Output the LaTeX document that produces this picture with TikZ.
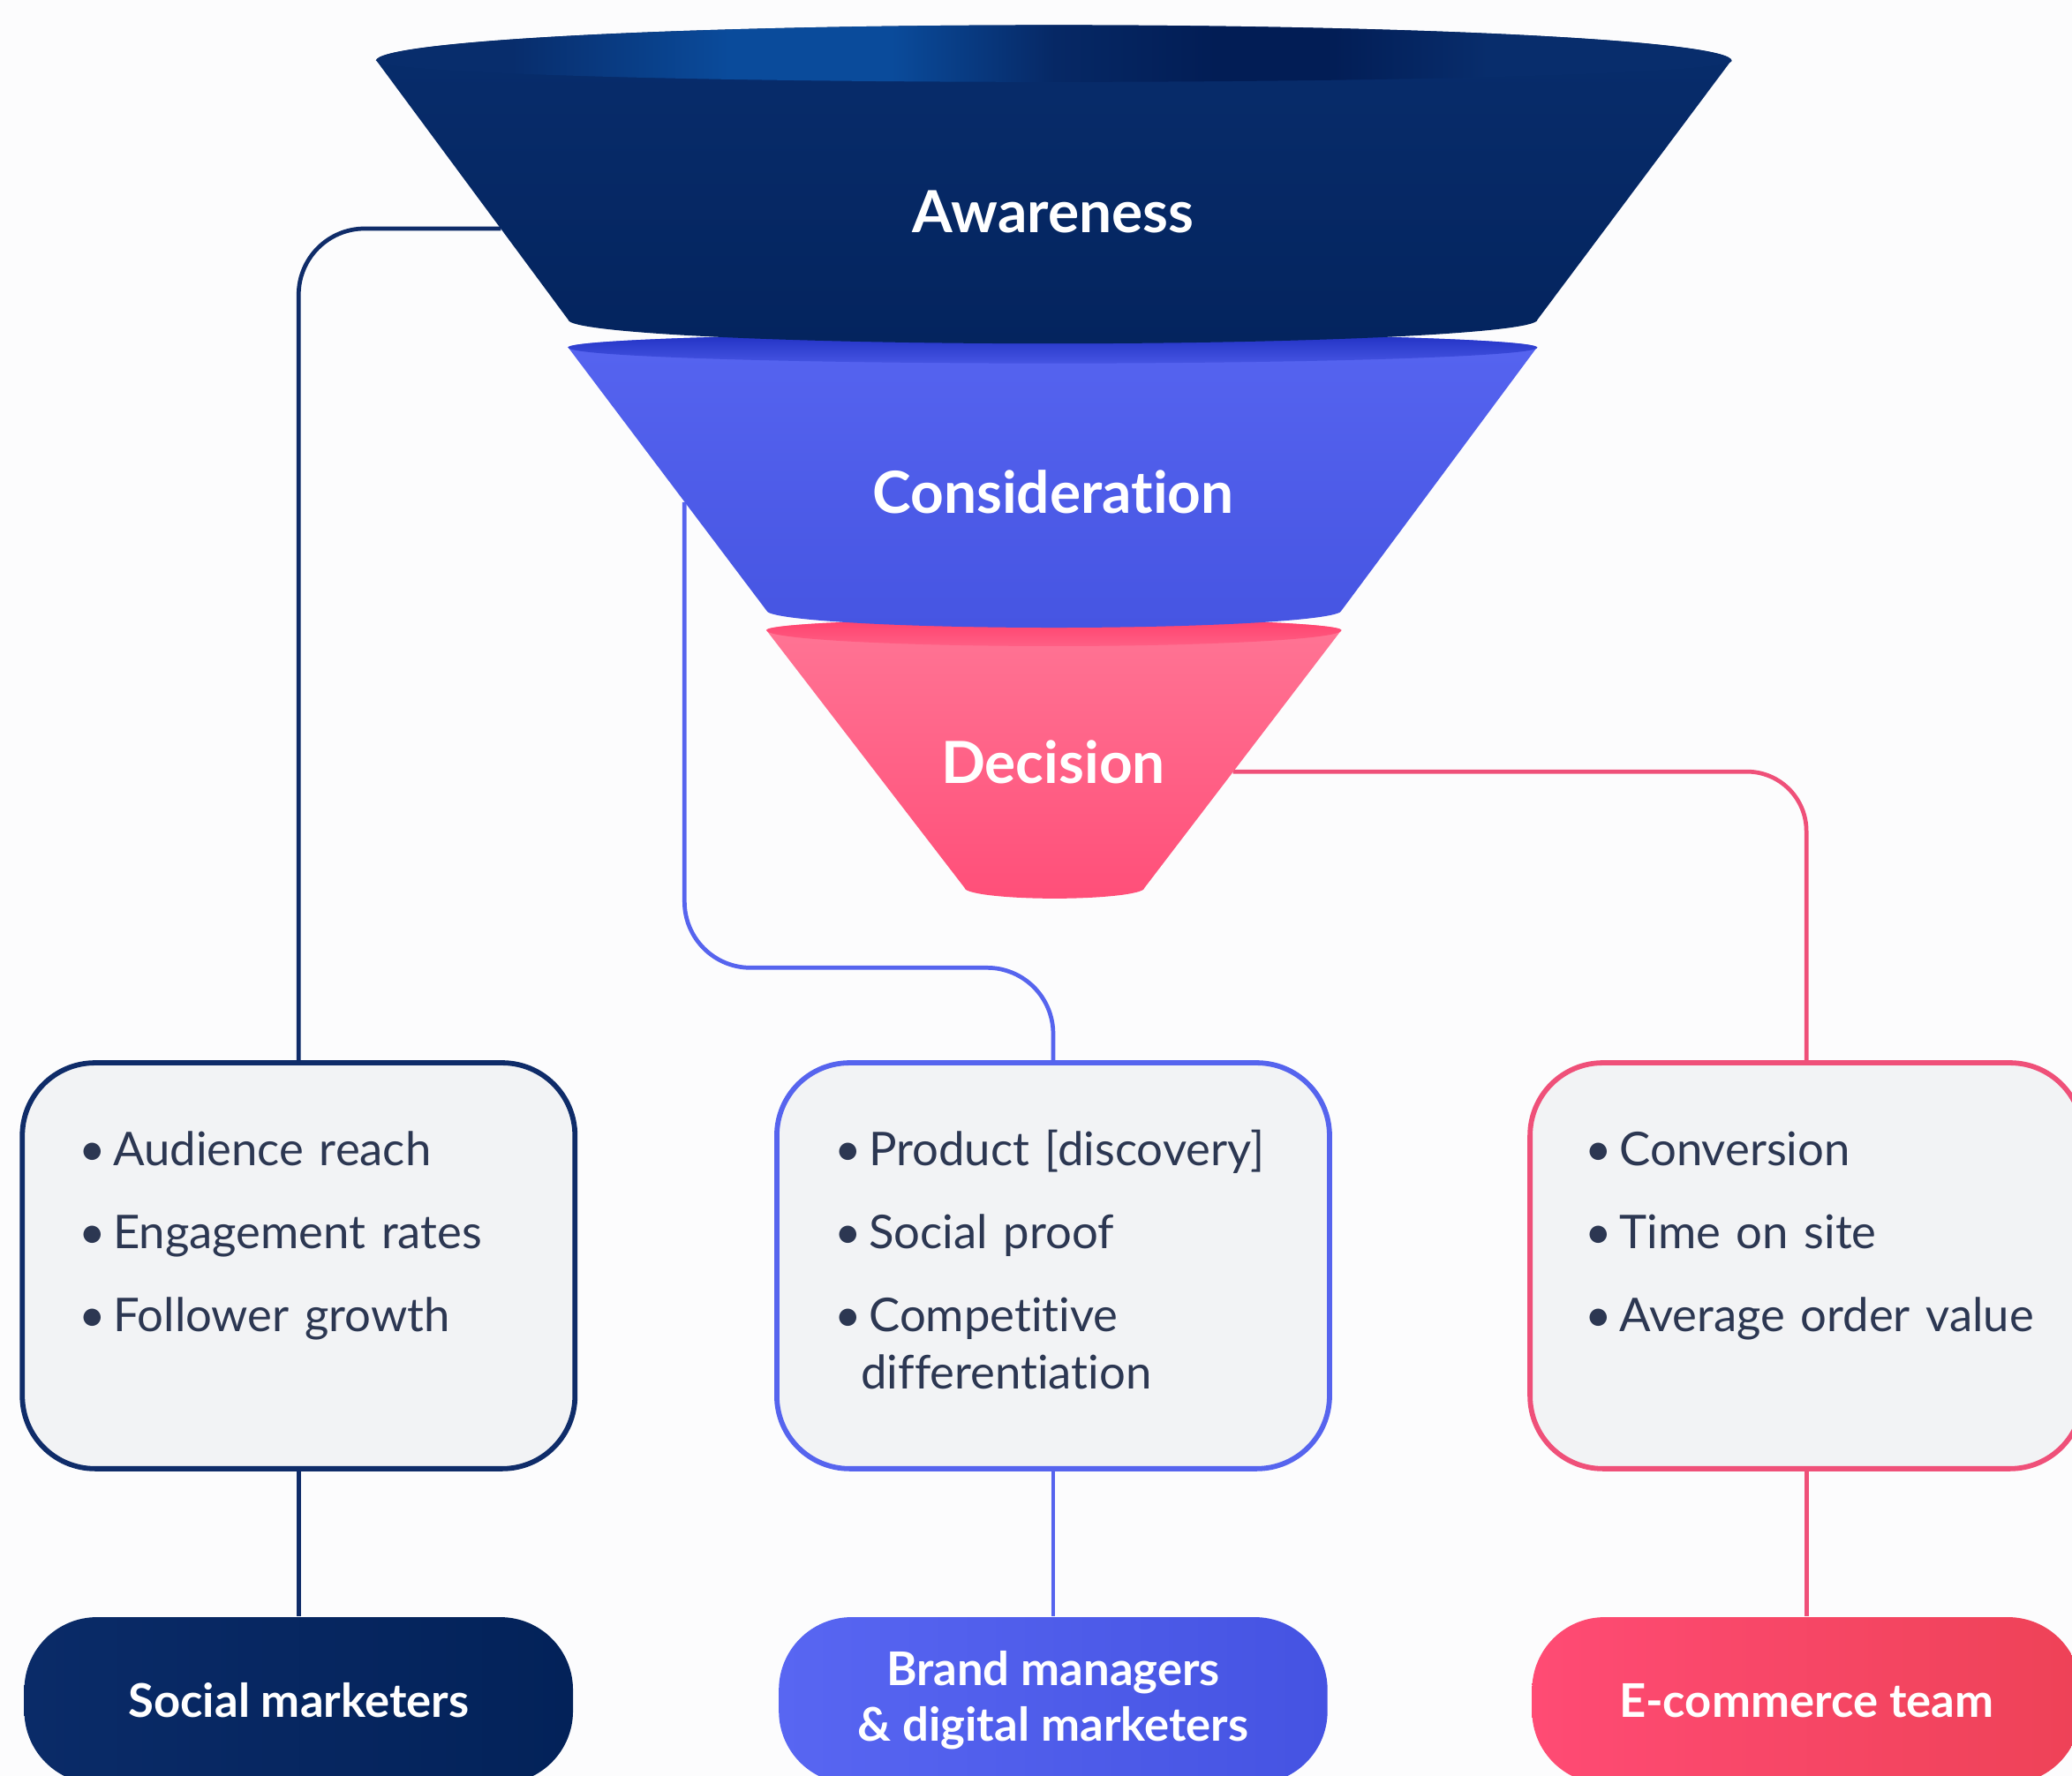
\documentclass[tikz,border=0pt]{standalone}
\usepackage{fontspec}
\setmainfont{Lato}[Ligatures=NoCommon]
\usetikzlibrary{positioning}

\definecolor{bgcol}{HTML}{FCFCFD}
\definecolor{boxgrey}{HTML}{F2F3F5}
\definecolor{kpitext}{HTML}{2C3752}
\definecolor{navyline}{HTML}{0F2C69}
\definecolor{blueline}{HTML}{5664EE}
\definecolor{pinkline}{HTML}{EF5079}
\definecolor{awbody}{HTML}{082D6C}
\definecolor{awbottom}{HTML}{04245E}
\definecolor{awlight}{HTML}{0A4B9B}
\definecolor{awdark}{HTML}{021D55}
\definecolor{cotop}{HTML}{5664F0}
\definecolor{cobottom}{HTML}{4655E2}
\definecolor{corim}{HTML}{1F30C2}
\definecolor{detop}{HTML}{FF7595}
\definecolor{debottom}{HTML}{FF4F79}
\definecolor{derim}{HTML}{FF3F6C}
\definecolor{pillnavyA}{HTML}{0A2B68}
\definecolor{pillnavyB}{HTML}{032259}
\definecolor{pillblueA}{HTML}{5866F2}
\definecolor{pillblueB}{HTML}{4553E2}
\definecolor{pillpinkA}{HTML}{FF4B74}
\definecolor{pillpinkB}{HTML}{EE4257}

\pgfdeclarehorizontalshading{awrim}{100bp}{color(0bp)=(awbody); color(25bp)=(awbody);
  color(30bp)=(awbody); color(38bp)=(awlight); color(44bp)=(awlight);
  color(50bp)=(awbody!70!awdark); color(56bp)=(awdark); color(60bp)=(awdark);
  color(66bp)=(awbody); color(100bp)=(awbody)}

\newcommand\kpi[1]{\par\hangindent=0.2cm\hangafter=1\noindent
  \makebox[0.26cm][l]{\textbullet}#1\par\vspace{5.7pt}}

\begin{document}
\begin{tikzpicture}[x=0.01cm,y=-0.01cm,
    conn/.style={line width=0.9pt},
    kpibox/.style={draw=#1,fill=boxgrey,line width=1.1pt,rounded corners=0.55cm,
      minimum width=4.18cm,minimum height=3.07cm},
    kpilist/.style={anchor=north west,inner sep=0pt,text width=3.8cm,align=left,
      text=kpitext,font=\fontsize{10}{12.2}\selectfont},
    pill/.style={rounded corners=0.55cm,minimum width=4.15cm,minimum height=1.26cm,
      text=white,align=center,font=\bfseries\fontsize{10}{12}\selectfont},
    stagelabel/.style={text=white,font=\bfseries\fontsize{12.5}{14}\selectfont}]

    \useasboundingbox (0,0) rectangle (1568,1344);
    \clip (0,0) rectangle (1568,1344);
    \fill[bgcol] (0,0) rectangle (1568,1344);

    % metric boxes
    \node (box1) at (226,958) [kpibox=navyline] {};
    \node (box2) at (797,958) [kpibox=blueline] {};
    \node (box3) at (1367,958) [kpibox=pinkline] {};

    \node (list1) at ([xshift=0.44cm,yshift=-0.36cm]box1.north west) [kpilist]
        {\kpi{Audience reach}\kpi{Engagement rates}\kpi{Follower growth}};
    \node (list2) at ([xshift=0.45cm,yshift=-0.36cm]box2.north west) [kpilist]
        {\kpi{Product [discovery]}\kpi{Social proof}\kpi{Competitive\newline differentiation}};
    \node (list3) at ([xshift=0.43cm,yshift=-0.36cm]box3.north west) [kpilist]
        {\kpi{Conversion}\kpi{Time on site}\kpi{Average order value}};

    % teams
    \node (pill1) at (226,1287) [pill,left color=pillnavyA,right color=pillnavyB] {Social marketers};
    \node (pill2) at (797,1287) [pill,left color=pillblueA,right color=pillblueB] {Brand managers\\\& digital marketers};
    \node (pill3) at (1367,1287) [pill,left color=pillpinkA,right color=pillpinkB] {E-commerce team};

    % where the lines leave the funnel
    \coordinate (awL) at (379,173);
    \coordinate (coL) at (518,380);
    \coordinate (deR) at (933,584);

    \draw[conn,navyline,rounded corners=0.5cm] (awL) -| (box1.north);
    \draw[conn,blueline,rounded corners=0.5cm] (coL) |- ([yshift=0.7cm]box2.north) -- (box2.north);
    \draw[conn,pinkline,rounded corners=0.45cm] (deR) -| (box3.north);
    \draw[conn,navyline] (box1.south) -- (pill1.north);
    \draw[conn,blueline] (box2.south) -- (pill2.north);
    \draw[conn,pinkline] (box3.south) -- (pill3.north);

    % funnel, bottom layer first
    \shade[top color=detop,bottom color=debottom] (580,477) -- (730,672)
        arc[start angle=180,end angle=360,x radius=0.68cm,y radius=0.08cm]
        -- (1015,477) arc[start angle=0,end angle=180,x radius=2.175cm,y radius=0.09cm] -- cycle;
    \shade[top color=derim,bottom color=detop!60!derim] (580,477)
        arc[start angle=180,end angle=0,x radius=2.175cm,y radius=0.09cm]
        arc[start angle=0,end angle=-180,x radius=2.175cm,y radius=0.12cm] -- cycle;

    \shade[top color=cotop,bottom color=cobottom] (430,263) -- (580,462)
        arc[start angle=180,end angle=360,x radius=2.175cm,y radius=0.13cm]
        -- (1163,263) arc[start angle=0,end angle=180,x radius=3.665cm,y radius=0.11cm] -- cycle;
    \shade[top color=corim,bottom color=cotop!70!corim] (430,263)
        arc[start angle=180,end angle=0,x radius=3.665cm,y radius=0.11cm]
        arc[start angle=0,end angle=-180,x radius=3.665cm,y radius=0.12cm] -- cycle;

    \shade[top color=awbody,bottom color=awbottom] (285,46) -- (430,242)
        arc[start angle=180,end angle=360,x radius=3.665cm,y radius=0.18cm]
        -- (1310,46) arc[start angle=0,end angle=180,x radius=5.125cm,y radius=0.27cm] -- cycle;
    \shade[shading=awrim] (285,46)
        arc[start angle=180,end angle=0,x radius=5.125cm,y radius=0.27cm]
        arc[start angle=0,end angle=-180,x radius=5.125cm,y radius=0.16cm] -- cycle;

    \node (aw) at (797,160) [stagelabel] {Awareness};
    \node (co) at (797,372) [stagelabel] {Consideration};
    \node (de) at (797,577) [stagelabel] {Decision};

\end{tikzpicture}
\end{document}
